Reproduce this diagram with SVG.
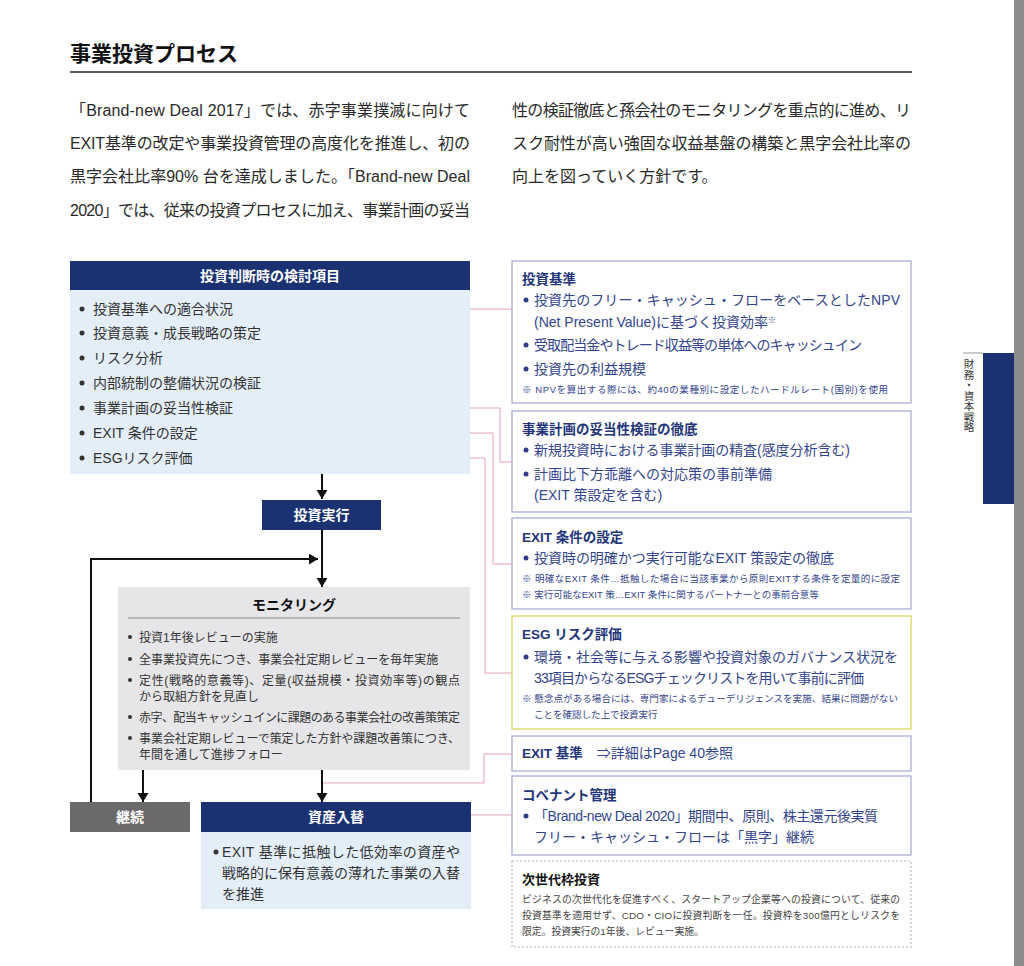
<svg xmlns="http://www.w3.org/2000/svg" width="1024" height="966" viewBox="0 0 1024 966">
<defs>
<marker id="ah" markerUnits="userSpaceOnUse" markerWidth="12" markerHeight="12" refX="9" refY="5.5" orient="auto">
<path d="M0,0 L9,5.5 L0,11 z" fill="#111"/>
</marker>
<style>
text{font-family:"Liberation Sans","Noto Sans CJK JP",sans-serif;}
.body{font-size:16px;fill:#2a2a2a;}
.item{font-size:14px;fill:#333;}
.hdr{font-size:14px;font-weight:700;fill:#fff;}
.rt{font-size:13.5px;font-weight:700;fill:#23367a;}
.rb{font-size:14px;fill:#33458c;}
.rn{font-size:9.5px;fill:#33458c;}
.mon{font-size:12px;fill:#333;}
.nx{font-size:9.8px;fill:#444;}
.rbox{fill:#fff;stroke:#a9aed2;stroke-width:1.3;}
.navy{fill:#1b3272;}
.lb{fill:#e4eef9;}
.dot{fill:#2d3e86;}
.dk{fill:#333;}
.pink{fill:none;stroke:#e6a3b4;stroke-width:1;}
.arr{fill:none;stroke:#111;stroke-width:2;}
</style>
</defs>
<rect width="1024" height="966" fill="#fff"/>

<!-- title -->
<g id="title">
<text x="70" y="61" style="font-size:21px;font-weight:700;fill:#111;">事業投資プロセス</text>
<line x1="70" y1="72" x2="912" y2="72" stroke="#222" stroke-width="1.6"/>
</g>

<!-- paragraph -->
<g id="para">
<text class="body" x="70" y="116" textLength="400" lengthAdjust="spacing">「Brand-new Deal 2017」では、赤字事業撲滅に向けて</text>
<text class="body" x="70" y="149" textLength="400" lengthAdjust="spacing">EXIT基準の改定や事業投資管理の高度化を推進し、初の</text>
<text class="body" x="70" y="182" textLength="400" lengthAdjust="spacing">黒字会社比率90% 台を達成しました。「Brand-new Deal</text>
<text class="body" x="70" y="216" textLength="400" lengthAdjust="spacing">2020」では、従来の投資プロセスに加え、事業計画の妥当</text>
<text class="body" x="512" y="116" textLength="399" lengthAdjust="spacing">性の検証徹底と孫会社のモニタリングを重点的に進め、リ</text>
<text class="body" x="512" y="149" textLength="399" lengthAdjust="spacing">スク耐性が高い強固な収益基盤の構築と黒字会社比率の</text>
<text class="body" x="512" y="182">向上を図っていく方針です。</text>
</g>

<!-- sidebar tab -->
<g id="tab">
<rect x="1014" y="0" width="10" height="966" fill="#8c8c8c"/>
<rect x="983" y="353" width="31" height="151" class="navy"/>
<line x1="963" y1="353" x2="983" y2="353" stroke="#999" stroke-width="1"/>
<text x="969" y="359" style="font-family:'Noto Sans CJK JP',sans-serif;font-size:10.5px;fill:#333;writing-mode:vertical-rl;" writing-mode="tb">財務・資本戦略</text>
</g>

<!-- connectors -->
<g id="connectors">
<path class="pink" d="M243,309 H512"/>
<path class="pink" d="M243,408 H500 V462 H512"/>
<path class="pink" d="M207,433 H493 V564 H512"/>
<path class="pink" d="M197,458 H485 V673 H512"/>
<path class="pink" d="M323,783 H484 V754 H512"/>
<path class="pink" d="M470,815 H512"/>
<path class="arr" d="M322,474 V499" marker-end="url(#ah)"/>
<path class="arr" d="M322,530 V587" marker-end="url(#ah)"/>
<path class="arr" d="M91,802 V559 H318" marker-end="url(#ah)"/>
<path class="arr" d="M143,770 V802" marker-end="url(#ah)"/>
<path class="arr" d="M322,770 V802" marker-end="url(#ah)"/>
</g>

<!-- left: 投資判断時の検討項目 -->
<g id="kentou">
<rect x="70" y="261" width="400" height="29" class="navy"/>
<rect x="70" y="290" width="400" height="184" class="lb"/>
<text class="hdr" x="270" y="281" text-anchor="middle">投資判断時の検討項目</text>
<circle cx="82" cy="309" r="2.5" class="dk"/><text class="item" x="93" y="314">投資基準への適合状況</text>
<circle cx="82" cy="333" r="2.5" class="dk"/><text class="item" x="93" y="338">投資意義・成長戦略の策定</text>
<circle cx="82" cy="358" r="2.5" class="dk"/><text class="item" x="93" y="363">リスク分析</text>
<circle cx="82" cy="383" r="2.5" class="dk"/><text class="item" x="93" y="388">内部統制の整備状況の検証</text>
<circle cx="82" cy="408" r="2.5" class="dk"/><text class="item" x="93" y="413">事業計画の妥当性検証</text>
<circle cx="82" cy="433" r="2.5" class="dk"/><text class="item" x="93" y="438">EXIT 条件の設定</text>
<circle cx="82" cy="458" r="2.5" class="dk"/><text class="item" x="93" y="463">ESGリスク評価</text>
</g>

<!-- 投資実行 -->
<g id="jikkou">
<rect x="262" y="500" width="119" height="30" class="navy"/>
<text class="hdr" x="321.5" y="520" text-anchor="middle">投資実行</text>
</g>

<!-- モニタリング -->
<g id="monitoring">
<rect x="118" y="587" width="352" height="183" fill="#e6e6e8"/>
<text x="294" y="610" text-anchor="middle" style="font-size:14px;font-weight:700;fill:#111;">モニタリング</text>
<line x1="128" y1="618" x2="460" y2="618" stroke="#8a8a8a" stroke-width="1"/>
<circle cx="130" cy="637" r="2" class="dk"/><text class="mon" x="139" y="641.5">投資1年後レビューの実施</text>
<circle cx="130" cy="659" r="2" class="dk"/><text class="mon" x="139" y="663.5">全事業投資先につき、事業会社定期レビューを毎年実施</text>
<circle cx="130" cy="680" r="2" class="dk"/><text class="mon" x="139" y="684.5" textLength="321" lengthAdjust="spacing">定性(戦略的意義等)、定量(収益規模・投資効率等)の観点</text>
<text class="mon" x="139" y="700.5">から取組方針を見直し</text>
<circle cx="130" cy="717" r="2" class="dk"/><text class="mon" x="139" y="721.5" textLength="321" lengthAdjust="spacing">赤字、配当キャッシュインに課題のある事業会社の改善策策定</text>
<circle cx="130" cy="738" r="2" class="dk"/><text class="mon" x="139" y="742.5" textLength="321" lengthAdjust="spacing">事業会社定期レビューで策定した方針や課題改善策につき、</text>
<text class="mon" x="139" y="758.5">年間を通して進捗フォロー</text>
</g>

<!-- 継続 -->
<g id="keizoku">
<rect x="70" y="802" width="120" height="30" fill="#6b696c"/>
<text class="hdr" x="130" y="822" text-anchor="middle">継続</text>
</g>

<!-- 資産入替 -->
<g id="shisan">
<rect x="201" y="802" width="270" height="30" class="navy"/>
<rect x="201" y="832" width="270" height="77" class="lb"/>
<text class="hdr" x="336" y="822" text-anchor="middle">資産入替</text>
<circle cx="216" cy="852" r="2.5" class="dk"/><text class="item" x="222" y="857" textLength="238" lengthAdjust="spacing">EXIT 基準に抵触した低効率の資産や</text>
<text class="item" x="222" y="878" textLength="238" lengthAdjust="spacing">戦略的に保有意義の薄れた事業の入替</text>
<text class="item" x="222" y="899">を推進</text>
</g>

<!-- 投資基準 -->
<g id="kijun">
<rect x="512" y="261" width="399" height="142" class="rbox"/>
<text class="rt" x="522" y="284">投資基準</text>
<circle cx="526" cy="300" r="2.5" class="dot"/><text class="rb" x="534" y="305" textLength="366" lengthAdjust="spacing">投資先のフリー・キャッシュ・フローをベースとしたNPV</text>
<text class="rb" x="534" y="327">(Net Present Value)に基づく投資効率<tspan style="font-size:8px;" dy="-4">※</tspan></text>
<circle cx="526" cy="345" r="2.5" class="dot"/><text class="rb" x="534" y="350" textLength="328" lengthAdjust="spacing">受取配当金やトレード収益等の単体へのキャッシュイン</text>
<circle cx="526" cy="369" r="2.5" class="dot"/><text class="rb" x="534" y="374">投資先の利益規模</text>
<text class="rn" x="522" y="393" textLength="366" lengthAdjust="spacing">※ NPVを算出する際には、約40の業種別に設定したハードルレート(国別)を使用</text>
</g>

<!-- 事業計画の妥当性検証の徹底 -->
<g id="datousei">
<rect x="512" y="411" width="399" height="101" class="rbox"/>
<text class="rt" x="522" y="434">事業計画の妥当性検証の徹底</text>
<circle cx="526" cy="450" r="2.5" class="dot"/><text class="rb" x="534" y="455" textLength="316" lengthAdjust="spacing">新規投資時における事業計画の精査(感度分析含む)</text>
<circle cx="526" cy="474" r="2.5" class="dot"/><text class="rb" x="534" y="479">計画比下方乖離への対応策の事前準備</text>
<text class="rb" x="534" y="500">(EXIT 策設定を含む)</text>
</g>

<!-- EXIT条件の設定 -->
<g id="exitjoken">
<rect x="512" y="518" width="399" height="91" class="rbox"/>
<text class="rt" x="522" y="542">EXIT 条件の設定</text>
<circle cx="526" cy="558" r="2.5" class="dot"/><text class="rb" x="534" y="563" textLength="300" lengthAdjust="spacing">投資時の明確かつ実行可能なEXIT 策設定の徹底</text>
<text class="rn" x="522" y="582" textLength="378" lengthAdjust="spacing">※ 明確なEXIT 条件…抵触した場合に当該事業から原則EXITする条件を定量的に設定</text>
<text class="rn" x="522" y="598">※ 実行可能なEXIT 策…EXIT 条件に関するパートナーとの事前合意等</text>
</g>

<!-- ESGリスク評価 -->
<g id="esg">
<rect x="512" y="616" width="399" height="113" fill="#fff" stroke="#e2dc7e" stroke-width="1.6"/>
<text class="rt" x="522" y="639">ESG リスク評価</text>
<circle cx="526" cy="657" r="2.5" class="dot"/><text class="rb" x="534" y="662" textLength="364" lengthAdjust="spacing">環境・社会等に与える影響や投資対象のガバナンス状況を</text>
<text class="rb" x="534" y="683" textLength="330" lengthAdjust="spacing">33項目からなるESGチェックリストを用いて事前に評価</text>
<text class="rn" x="522" y="702" textLength="376" lengthAdjust="spacing">※ 懸念点がある場合には、専門家によるデューデリジェンスを実施、結果に問題がない</text>
<text class="rn" x="534" y="718">ことを確認した上で投資実行</text>
</g>

<!-- EXIT基準 -->
<g id="exitkijun">
<rect x="512" y="736" width="399" height="35" class="rbox"/>
<text x="522" y="758"><tspan class="rt">EXIT 基準</tspan><tspan class="rb" dx="14">⇒詳細はPage 40参照</tspan></text>
</g>

<!-- コベナント管理 -->
<g id="covenant">
<rect x="512" y="776" width="399" height="79" class="rbox"/>
<text class="rt" x="522" y="800">コベナント管理</text>
<circle cx="526" cy="816" r="2.5" class="dot"/><text class="rb" x="534" y="821" textLength="344" lengthAdjust="spacing">「Brand-new Deal 2020」期間中、原則、株主還元後実質</text>
<text class="rb" x="534" y="842">フリー・キャッシュ・フローは「黒字」継続</text>
</g>

<!-- 次世代枠投資 -->
<g id="jisedai">
<rect x="512" y="861" width="399" height="86" fill="#fff" stroke="#b5b5bd" stroke-width="1.2" stroke-dasharray="2,2"/>
<text x="522" y="884" style="font-size:13px;font-weight:700;fill:#111;">次世代枠投資</text>
<text class="nx" x="522" y="903" textLength="378" lengthAdjust="spacing">ビジネスの次世代化を促進すべく、スタートアップ企業等への投資について、従来の</text>
<text class="nx" x="522" y="919" textLength="378" lengthAdjust="spacing">投資基準を適用せず、CDO・CIOに投資判断を一任。投資枠を300億円としリスクを</text>
<text class="nx" x="522" y="935">限定。投資実行の1年後、レビュー実施。</text>
</g>
</svg>
